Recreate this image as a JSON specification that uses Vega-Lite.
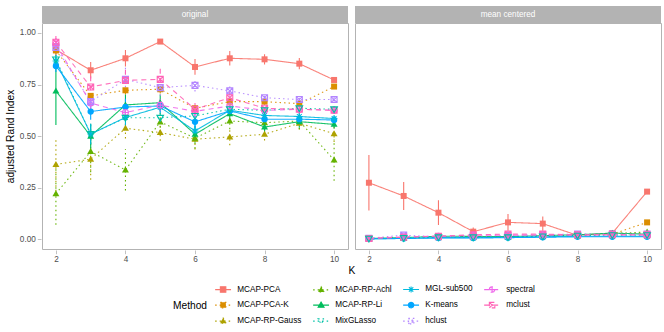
{
  "$schema": "https://vega.github.io/schema/vega-lite/v6.json",
  "padding": {"left": 5, "top": 5, "right": 7, "bottom": 2},
  "data": {"values": [
    {"m":"MCAP-PCA","p":"original","k":2,"v":0.919,"e":0.03},
    {"m":"MCAP-PCA","p":"original","k":3,"v":0.819,"e":0.04},
    {"m":"MCAP-PCA","p":"original","k":4,"v":0.877,"e":0.04},
    {"m":"MCAP-PCA","p":"original","k":5,"v":0.958,"e":0.01},
    {"m":"MCAP-PCA","p":"original","k":6,"v":0.835,"e":0.038},
    {"m":"MCAP-PCA","p":"original","k":7,"v":0.877,"e":0.035},
    {"m":"MCAP-PCA","p":"original","k":8,"v":0.872,"e":0.025},
    {"m":"MCAP-PCA","p":"original","k":9,"v":0.851,"e":0.027},
    {"m":"MCAP-PCA","p":"original","k":10,"v":0.772,"e":0.01},
    {"m":"MCAP-PCA-K","p":"original","k":2,"v":0.915,"e":0.02},
    {"m":"MCAP-PCA-K","p":"original","k":3,"v":0.695,"e":0.02},
    {"m":"MCAP-PCA-K","p":"original","k":4,"v":0.722,"e":0.02},
    {"m":"MCAP-PCA-K","p":"original","k":5,"v":0.727,"e":0.02},
    {"m":"MCAP-PCA-K","p":"original","k":6,"v":0.635,"e":0.02},
    {"m":"MCAP-PCA-K","p":"original","k":7,"v":0.667,"e":0.02},
    {"m":"MCAP-PCA-K","p":"original","k":8,"v":0.667,"e":0.015},
    {"m":"MCAP-PCA-K","p":"original","k":9,"v":0.657,"e":0.015},
    {"m":"MCAP-PCA-K","p":"original","k":10,"v":0.74,"e":0.01},
    {"m":"MCAP-RP-Gauss","p":"original","k":2,"v":0.363,"e":0.13},
    {"m":"MCAP-RP-Gauss","p":"original","k":3,"v":0.388,"e":0.1},
    {"m":"MCAP-RP-Gauss","p":"original","k":4,"v":0.538,"e":0.05},
    {"m":"MCAP-RP-Gauss","p":"original","k":5,"v":0.517,"e":0.04},
    {"m":"MCAP-RP-Gauss","p":"original","k":6,"v":0.485,"e":0.05},
    {"m":"MCAP-RP-Gauss","p":"original","k":7,"v":0.496,"e":0.04},
    {"m":"MCAP-RP-Gauss","p":"original","k":8,"v":0.509,"e":0.03},
    {"m":"MCAP-RP-Gauss","p":"original","k":9,"v":0.562,"e":0.03},
    {"m":"MCAP-RP-Gauss","p":"original","k":10,"v":0.512,"e":0.04},
    {"m":"MCAP-RP-Achl","p":"original","k":2,"v":0.221,"e":0.15},
    {"m":"MCAP-RP-Achl","p":"original","k":3,"v":0.425,"e":0.1},
    {"m":"MCAP-RP-Achl","p":"original","k":4,"v":0.336,"e":0.1},
    {"m":"MCAP-RP-Achl","p":"original","k":5,"v":0.569,"e":0.05},
    {"m":"MCAP-RP-Achl","p":"original","k":6,"v":0.49,"e":0.05},
    {"m":"MCAP-RP-Achl","p":"original","k":7,"v":0.573,"e":0.04},
    {"m":"MCAP-RP-Achl","p":"original","k":8,"v":0.565,"e":0.03},
    {"m":"MCAP-RP-Achl","p":"original","k":9,"v":0.573,"e":0.04},
    {"m":"MCAP-RP-Achl","p":"original","k":10,"v":0.384,"e":0.1},
    {"m":"MCAP-RP-Li","p":"original","k":2,"v":0.719,"e":0.165},
    {"m":"MCAP-RP-Li","p":"original","k":3,"v":0.5,"e":0.06},
    {"m":"MCAP-RP-Li","p":"original","k":4,"v":0.651,"e":0.05},
    {"m":"MCAP-RP-Li","p":"original","k":5,"v":0.662,"e":0.04},
    {"m":"MCAP-RP-Li","p":"original","k":6,"v":0.509,"e":0.04},
    {"m":"MCAP-RP-Li","p":"original","k":7,"v":0.609,"e":0.03},
    {"m":"MCAP-RP-Li","p":"original","k":8,"v":0.544,"e":0.03},
    {"m":"MCAP-RP-Li","p":"original","k":9,"v":0.57,"e":0.03},
    {"m":"MCAP-RP-Li","p":"original","k":10,"v":0.557,"e":0.02},
    {"m":"MixGLasso","p":"original","k":2,"v":0.872,"e":0.03},
    {"m":"MixGLasso","p":"original","k":3,"v":0.51,"e":0.05},
    {"m":"MixGLasso","p":"original","k":4,"v":0.589,"e":0.04},
    {"m":"MixGLasso","p":"original","k":5,"v":0.589,"e":0.03},
    {"m":"MixGLasso","p":"original","k":6,"v":0.598,"e":0.03},
    {"m":"MixGLasso","p":"original","k":7,"v":0.63,"e":0.02},
    {"m":"MixGLasso","p":"original","k":8,"v":0.625,"e":0.02},
    {"m":"MixGLasso","p":"original","k":9,"v":0.635,"e":0.02},
    {"m":"MixGLasso","p":"original","k":10,"v":0.63,"e":0.015},
    {"m":"MGL-sub500","p":"original","k":2,"v":0.864,"e":0.03},
    {"m":"MGL-sub500","p":"original","k":3,"v":0.51,"e":0.05},
    {"m":"MGL-sub500","p":"original","k":4,"v":0.59,"e":0.04},
    {"m":"MGL-sub500","p":"original","k":5,"v":0.64,"e":0.03},
    {"m":"MGL-sub500","p":"original","k":6,"v":0.525,"e":0.04},
    {"m":"MGL-sub500","p":"original","k":7,"v":0.625,"e":0.02},
    {"m":"MGL-sub500","p":"original","k":8,"v":0.6,"e":0.02},
    {"m":"MGL-sub500","p":"original","k":9,"v":0.595,"e":0.02},
    {"m":"MGL-sub500","p":"original","k":10,"v":0.585,"e":0.015},
    {"m":"K-means","p":"original","k":2,"v":0.84,"e":0.03},
    {"m":"K-means","p":"original","k":3,"v":0.619,"e":0.04},
    {"m":"K-means","p":"original","k":4,"v":0.641,"e":0.04},
    {"m":"K-means","p":"original","k":5,"v":0.646,"e":0.03},
    {"m":"K-means","p":"original","k":6,"v":0.569,"e":0.03},
    {"m":"K-means","p":"original","k":7,"v":0.622,"e":0.02},
    {"m":"K-means","p":"original","k":8,"v":0.582,"e":0.02},
    {"m":"K-means","p":"original","k":9,"v":0.582,"e":0.02},
    {"m":"K-means","p":"original","k":10,"v":0.578,"e":0.015},
    {"m":"hclust","p":"original","k":2,"v":0.93,"e":0.03},
    {"m":"hclust","p":"original","k":3,"v":0.667,"e":0.04},
    {"m":"hclust","p":"original","k":4,"v":0.775,"e":0.06},
    {"m":"hclust","p":"original","k":5,"v":0.735,"e":0.04},
    {"m":"hclust","p":"original","k":6,"v":0.746,"e":0.03},
    {"m":"hclust","p":"original","k":7,"v":0.719,"e":0.03},
    {"m":"hclust","p":"original","k":8,"v":0.686,"e":0.02},
    {"m":"hclust","p":"original","k":9,"v":0.677,"e":0.02},
    {"m":"hclust","p":"original","k":10,"v":0.677,"e":0.015},
    {"m":"spectral","p":"original","k":2,"v":0.945,"e":0.03},
    {"m":"spectral","p":"original","k":3,"v":0.66,"e":0.04},
    {"m":"spectral","p":"original","k":4,"v":0.614,"e":0.04},
    {"m":"spectral","p":"original","k":5,"v":0.65,"e":0.03},
    {"m":"spectral","p":"original","k":6,"v":0.62,"e":0.03},
    {"m":"spectral","p":"original","k":7,"v":0.646,"e":0.03},
    {"m":"spectral","p":"original","k":8,"v":0.625,"e":0.02},
    {"m":"spectral","p":"original","k":9,"v":0.63,"e":0.02},
    {"m":"spectral","p":"original","k":10,"v":0.625,"e":0.015},
    {"m":"mclust","p":"original","k":2,"v":0.955,"e":0.03},
    {"m":"mclust","p":"original","k":3,"v":0.738,"e":0.06},
    {"m":"mclust","p":"original","k":4,"v":0.77,"e":0.06},
    {"m":"mclust","p":"original","k":5,"v":0.775,"e":0.06},
    {"m":"mclust","p":"original","k":6,"v":0.63,"e":0.03},
    {"m":"mclust","p":"original","k":7,"v":0.686,"e":0.03},
    {"m":"mclust","p":"original","k":8,"v":0.635,"e":0.02},
    {"m":"mclust","p":"original","k":9,"v":0.63,"e":0.02},
    {"m":"mclust","p":"original","k":10,"v":0.625,"e":0.015},
    {"m":"MCAP-PCA","p":"mean centered","k":2,"v":0.274,"e":0.135},
    {"m":"MCAP-PCA","p":"mean centered","k":3,"v":0.21,"e":0.068},
    {"m":"MCAP-PCA","p":"mean centered","k":4,"v":0.129,"e":0.06},
    {"m":"MCAP-PCA","p":"mean centered","k":5,"v":0.037,"e":0.02},
    {"m":"MCAP-PCA","p":"mean centered","k":6,"v":0.082,"e":0.04},
    {"m":"MCAP-PCA","p":"mean centered","k":7,"v":0.076,"e":0.035},
    {"m":"MCAP-PCA","p":"mean centered","k":8,"v":0.019,"e":0.008},
    {"m":"MCAP-PCA","p":"mean centered","k":9,"v":0.03,"e":0.008},
    {"m":"MCAP-PCA","p":"mean centered","k":10,"v":0.231,"e":0.012},
    {"m":"MCAP-PCA-K","p":"mean centered","k":2,"v":0.003,"e":0.003},
    {"m":"MCAP-PCA-K","p":"mean centered","k":3,"v":0.008,"e":0.004},
    {"m":"MCAP-PCA-K","p":"mean centered","k":4,"v":0.01,"e":0.004},
    {"m":"MCAP-PCA-K","p":"mean centered","k":5,"v":0.01,"e":0.004},
    {"m":"MCAP-PCA-K","p":"mean centered","k":6,"v":0.012,"e":0.004},
    {"m":"MCAP-PCA-K","p":"mean centered","k":7,"v":0.015,"e":0.004},
    {"m":"MCAP-PCA-K","p":"mean centered","k":8,"v":0.018,"e":0.004},
    {"m":"MCAP-PCA-K","p":"mean centered","k":9,"v":0.025,"e":0.004},
    {"m":"MCAP-PCA-K","p":"mean centered","k":10,"v":0.082,"e":0.006},
    {"m":"MCAP-RP-Gauss","p":"mean centered","k":2,"v":0.003,"e":0.003},
    {"m":"MCAP-RP-Gauss","p":"mean centered","k":3,"v":0.006,"e":0.003},
    {"m":"MCAP-RP-Gauss","p":"mean centered","k":4,"v":0.01,"e":0.004},
    {"m":"MCAP-RP-Gauss","p":"mean centered","k":5,"v":0.01,"e":0.004},
    {"m":"MCAP-RP-Gauss","p":"mean centered","k":6,"v":0.012,"e":0.004},
    {"m":"MCAP-RP-Gauss","p":"mean centered","k":7,"v":0.015,"e":0.004},
    {"m":"MCAP-RP-Gauss","p":"mean centered","k":8,"v":0.02,"e":0.004},
    {"m":"MCAP-RP-Gauss","p":"mean centered","k":9,"v":0.025,"e":0.004},
    {"m":"MCAP-RP-Gauss","p":"mean centered","k":10,"v":0.03,"e":0.004},
    {"m":"MCAP-RP-Achl","p":"mean centered","k":2,"v":0.003,"e":0.003},
    {"m":"MCAP-RP-Achl","p":"mean centered","k":3,"v":0.006,"e":0.003},
    {"m":"MCAP-RP-Achl","p":"mean centered","k":4,"v":0.012,"e":0.004},
    {"m":"MCAP-RP-Achl","p":"mean centered","k":5,"v":0.012,"e":0.004},
    {"m":"MCAP-RP-Achl","p":"mean centered","k":6,"v":0.012,"e":0.004},
    {"m":"MCAP-RP-Achl","p":"mean centered","k":7,"v":0.016,"e":0.004},
    {"m":"MCAP-RP-Achl","p":"mean centered","k":8,"v":0.022,"e":0.004},
    {"m":"MCAP-RP-Achl","p":"mean centered","k":9,"v":0.028,"e":0.004},
    {"m":"MCAP-RP-Achl","p":"mean centered","k":10,"v":0.035,"e":0.005},
    {"m":"MCAP-RP-Li","p":"mean centered","k":2,"v":0.004,"e":0.003},
    {"m":"MCAP-RP-Li","p":"mean centered","k":3,"v":0.008,"e":0.003},
    {"m":"MCAP-RP-Li","p":"mean centered","k":4,"v":0.015,"e":0.004},
    {"m":"MCAP-RP-Li","p":"mean centered","k":5,"v":0.014,"e":0.004},
    {"m":"MCAP-RP-Li","p":"mean centered","k":6,"v":0.013,"e":0.004},
    {"m":"MCAP-RP-Li","p":"mean centered","k":7,"v":0.018,"e":0.004},
    {"m":"MCAP-RP-Li","p":"mean centered","k":8,"v":0.022,"e":0.004},
    {"m":"MCAP-RP-Li","p":"mean centered","k":9,"v":0.03,"e":0.004},
    {"m":"MCAP-RP-Li","p":"mean centered","k":10,"v":0.025,"e":0.004},
    {"m":"MixGLasso","p":"mean centered","k":2,"v":0.003,"e":0.003},
    {"m":"MixGLasso","p":"mean centered","k":3,"v":0.006,"e":0.003},
    {"m":"MixGLasso","p":"mean centered","k":4,"v":0.01,"e":0.003},
    {"m":"MixGLasso","p":"mean centered","k":5,"v":0.01,"e":0.003},
    {"m":"MixGLasso","p":"mean centered","k":6,"v":0.01,"e":0.003},
    {"m":"MixGLasso","p":"mean centered","k":7,"v":0.014,"e":0.003},
    {"m":"MixGLasso","p":"mean centered","k":8,"v":0.018,"e":0.003},
    {"m":"MixGLasso","p":"mean centered","k":9,"v":0.02,"e":0.003},
    {"m":"MixGLasso","p":"mean centered","k":10,"v":0.02,"e":0.003},
    {"m":"MGL-sub500","p":"mean centered","k":2,"v":0.002,"e":0.002},
    {"m":"MGL-sub500","p":"mean centered","k":3,"v":0.005,"e":0.003},
    {"m":"MGL-sub500","p":"mean centered","k":4,"v":0.008,"e":0.003},
    {"m":"MGL-sub500","p":"mean centered","k":5,"v":0.008,"e":0.003},
    {"m":"MGL-sub500","p":"mean centered","k":6,"v":0.01,"e":0.003},
    {"m":"MGL-sub500","p":"mean centered","k":7,"v":0.012,"e":0.003},
    {"m":"MGL-sub500","p":"mean centered","k":8,"v":0.015,"e":0.003},
    {"m":"MGL-sub500","p":"mean centered","k":9,"v":0.015,"e":0.003},
    {"m":"MGL-sub500","p":"mean centered","k":10,"v":0.015,"e":0.003},
    {"m":"K-means","p":"mean centered","k":2,"v":0.002,"e":0.002},
    {"m":"K-means","p":"mean centered","k":3,"v":0.004,"e":0.002},
    {"m":"K-means","p":"mean centered","k":4,"v":0.006,"e":0.002},
    {"m":"K-means","p":"mean centered","k":5,"v":0.006,"e":0.002},
    {"m":"K-means","p":"mean centered","k":6,"v":0.008,"e":0.002},
    {"m":"K-means","p":"mean centered","k":7,"v":0.01,"e":0.002},
    {"m":"K-means","p":"mean centered","k":8,"v":0.012,"e":0.002},
    {"m":"K-means","p":"mean centered","k":9,"v":0.012,"e":0.002},
    {"m":"K-means","p":"mean centered","k":10,"v":0.012,"e":0.002},
    {"m":"hclust","p":"mean centered","k":2,"v":0.005,"e":0.003},
    {"m":"hclust","p":"mean centered","k":3,"v":0.02,"e":0.004},
    {"m":"hclust","p":"mean centered","k":4,"v":0.012,"e":0.004},
    {"m":"hclust","p":"mean centered","k":5,"v":0.015,"e":0.004},
    {"m":"hclust","p":"mean centered","k":6,"v":0.018,"e":0.004},
    {"m":"hclust","p":"mean centered","k":7,"v":0.022,"e":0.004},
    {"m":"hclust","p":"mean centered","k":8,"v":0.025,"e":0.004},
    {"m":"hclust","p":"mean centered","k":9,"v":0.025,"e":0.004},
    {"m":"hclust","p":"mean centered","k":10,"v":0.025,"e":0.004},
    {"m":"spectral","p":"mean centered","k":2,"v":0.004,"e":0.003},
    {"m":"spectral","p":"mean centered","k":3,"v":0.012,"e":0.004},
    {"m":"spectral","p":"mean centered","k":4,"v":0.015,"e":0.004},
    {"m":"spectral","p":"mean centered","k":5,"v":0.02,"e":0.004},
    {"m":"spectral","p":"mean centered","k":6,"v":0.02,"e":0.004},
    {"m":"spectral","p":"mean centered","k":7,"v":0.02,"e":0.004},
    {"m":"spectral","p":"mean centered","k":8,"v":0.02,"e":0.004},
    {"m":"spectral","p":"mean centered","k":9,"v":0.022,"e":0.004},
    {"m":"spectral","p":"mean centered","k":10,"v":0.02,"e":0.004},
    {"m":"mclust","p":"mean centered","k":2,"v":0.004,"e":0.003},
    {"m":"mclust","p":"mean centered","k":3,"v":0.01,"e":0.004},
    {"m":"mclust","p":"mean centered","k":4,"v":0.015,"e":0.004},
    {"m":"mclust","p":"mean centered","k":5,"v":0.022,"e":0.004},
    {"m":"mclust","p":"mean centered","k":6,"v":0.025,"e":0.004},
    {"m":"mclust","p":"mean centered","k":7,"v":0.025,"e":0.004},
    {"m":"mclust","p":"mean centered","k":8,"v":0.022,"e":0.004},
    {"m":"mclust","p":"mean centered","k":9,"v":0.022,"e":0.004},
    {"m":"mclust","p":"mean centered","k":10,"v":0.022,"e":0.004}
  ]},
  "facet": {"column": {"field": "p", "type": "nominal", "sort": ["original", "mean centered"], "title": "K",
    "header": {"labels": false, "titleOrient": "bottom", "titleFontSize": 10.2, "titleFontWeight": "normal", "titleColor": "black", "titlePadding": -7}}},
  "spacing": 5,
  "spec": {
    "width": 306,
    "height": 226,
    "layer": [
      {
        "transform": [{"aggregate": [{"op": "count", "as": "n"}], "groupby": ["p"]}],
        "mark": {"type": "rect", "color": "#B3B3B3", "clip": false},
        "encoding": {
          "x": {"datum": 1.6, "type": "quantitative"},
          "x2": {"datum": 10.4},
          "y": {"datum": 1.048, "type": "quantitative"},
          "y2": {"datum": 1.13}
        }
      },
      {
        "transform": [{"aggregate": [{"op": "count", "as": "n"}], "groupby": ["p"]}],
        "mark": {"type": "text", "color": "white", "fontSize": 8.2, "clip": false, "baseline": "middle"},
        "encoding": {
          "x": {"datum": 6, "type": "quantitative"},
          "y": {"datum": 1.089, "type": "quantitative"},
          "text": {"field": "p"}
        }
      },
      {
        "mark": {"type": "line", "strokeWidth": 1.1, "opacity": 0.9},
        "encoding": {
          "x": {"field": "k", "type": "quantitative", "title": null, "scale": {"domain": [1.6, 10.4], "nice": false, "zero": false},
            "axis": {"title": null, "values": [2, 3, 4, 5, 6, 7, 8, 9, 10],
              "labelExpr": "datum.value % 2 == 0 ? datum.label : ''",
              "tickOpacity": {"condition": {"test": "datum.value % 2 != 0", "value": 0}, "value": 1},
              "gridWidth": {"condition": {"test": "datum.value % 2 != 0", "value": 0.5}, "value": 1}}},
          "y": {"field": "v", "type": "quantitative", "title": "adjusted Rand Index", "scale": {"domain": [-0.047, 1.048], "nice": false, "zero": false},
            "axis": {"title": "adjusted Rand Index", "values": [0, 0.125, 0.25, 0.375, 0.5, 0.625, 0.75, 0.875, 1],
              "labelExpr": "(datum.value * 8) % 2 == 0 ? format(datum.value, '.2f') : ''",
              "tickOpacity": {"condition": {"test": "(datum.value * 8) % 2 != 0", "value": 0}, "value": 1},
              "gridWidth": {"condition": {"test": "(datum.value * 8) % 2 != 0", "value": 0.5}, "value": 1}}},
          "color": {"field": "m", "type": "nominal", "title": "Method",
            "scale": {"domain": ["MCAP-PCA", "MCAP-RP-Achl", "MGL-sub500", "spectral", "MCAP-PCA-K", "MCAP-RP-Li", "K-means", "mclust", "MCAP-RP-Gauss", "MixGLasso", "hclust"],
              "range": ["#F8766D", "#64B200", "#00BADE", "#EF67EB", "#DB8E00", "#00BD5C", "#00A6FF", "#FF63B6", "#AEA200", "#00C1A7", "#B385FF"]},
            "legend": {"orient": "none", "legendX": 131, "legendY": 262, "columns": 4, "direction": "horizontal",
              "titleOrient": "left", "titleAnchor": "middle", "titleBaseline": "middle", "titlePadding": 6,
              "symbolSize": 30, "symbolStrokeWidth": 1.1, "symbolOffset": 6, "symbolOpacity": 1, "rowPadding": 4, "columnPadding": 8, "labelOffset": 10}},
          "strokeDash": {"field": "m", "type": "nominal", "title": "Method",
            "scale": {"domain": ["MCAP-PCA", "MCAP-RP-Achl", "MGL-sub500", "spectral", "MCAP-PCA-K", "MCAP-RP-Li", "K-means", "mclust", "MCAP-RP-Gauss", "MixGLasso", "hclust"],
              "range": [[1, 0], [1.5, 3], [1, 0], [5, 4], [1.5, 3], [1, 0], [1, 0], [5, 4], [1.5, 3], [1.5, 3], [1.5, 3]]}}
        }
      },
      {
        "mark": {"type": "errorbar", "thickness": 1.1},
        "encoding": {
          "x": {"field": "k", "type": "quantitative", "title": null},
          "y": {"field": "v", "type": "quantitative", "title": "adjusted Rand Index"},
          "yError": {"field": "e"},
          "color": {"field": "m", "type": "nominal", "title": "Method"},
          "strokeDash": {"field": "m", "type": "nominal", "title": "Method"}
        }
      },
      {
        "transform": [{"filter": {"field": "m", "oneOf": ["MCAP-PCA", "MCAP-PCA-K"]}}],
        "mark": {"type": "point", "filled": true, "size": 36, "opacity": 1, "shape": "M-1,-1L1,-1L1,1L-1,1Z"},
        "encoding": {
          "x": {"field": "k", "type": "quantitative", "title": null},
          "y": {"field": "v", "type": "quantitative", "title": "adjusted Rand Index"},
          "fill": {"field": "m", "type": "nominal", "title": "Method"}
        }
      },
      {
        "transform": [{"filter": {"field": "m", "oneOf": ["MCAP-RP-Gauss", "MCAP-RP-Achl", "MCAP-RP-Li"]}}],
        "mark": {"type": "point", "filled": true, "size": 40, "opacity": 1, "shape": "M0,-1.1L1.1,0.8L-1.1,0.8Z"},
        "encoding": {
          "x": {"field": "k", "type": "quantitative", "title": null},
          "y": {"field": "v", "type": "quantitative", "title": "adjusted Rand Index"},
          "fill": {"field": "m", "type": "nominal", "title": "Method"}
        }
      },
      {
        "transform": [{"filter": {"field": "m", "oneOf": ["K-means"]}}],
        "mark": {"type": "point", "filled": true, "size": 40, "opacity": 1, "shape": "circle"},
        "encoding": {
          "x": {"field": "k", "type": "quantitative", "title": null},
          "y": {"field": "v", "type": "quantitative", "title": "adjusted Rand Index"},
          "fill": {"field": "m", "type": "nominal", "title": "Method"}
        }
      },
      {
        "transform": [{"filter": {"field": "m", "oneOf": ["MGL-sub500"]}}],
        "mark": {"type": "point", "filled": false, "size": 36, "strokeWidth": 1.1, "opacity": 1, "shape": "M-1.1,0L1.1,0M0,-1.1L0,1.1M-0.8,-0.8L0.8,0.8M-0.8,0.8L0.8,-0.8"},
        "encoding": {
          "x": {"field": "k", "type": "quantitative", "title": null},
          "y": {"field": "v", "type": "quantitative", "title": "adjusted Rand Index"},
          "color": {"field": "m", "type": "nominal", "title": "Method"}
        }
      },
      {
        "transform": [{"filter": {"field": "m", "oneOf": ["spectral"]}}],
        "mark": {"type": "point", "filled": false, "size": 36, "strokeWidth": 1.1, "opacity": 1, "shape": "M-1,0A1,1,0,1,1,1,0A1,1,0,1,1,-1,0ZM-1,0L1,0M0,-1L0,1"},
        "encoding": {
          "x": {"field": "k", "type": "quantitative", "title": null},
          "y": {"field": "v", "type": "quantitative", "title": "adjusted Rand Index"},
          "color": {"field": "m", "type": "nominal", "title": "Method"}
        }
      },
      {
        "transform": [{"filter": {"field": "m", "oneOf": ["mclust", "hclust"]}}],
        "mark": {"type": "point", "filled": false, "size": 36, "strokeWidth": 1.1, "opacity": 1, "shape": "M-1,-1L1,-1L1,1L-1,1ZM-1,-1L1,1M-1,1L1,-1"},
        "encoding": {
          "x": {"field": "k", "type": "quantitative", "title": null},
          "y": {"field": "v", "type": "quantitative", "title": "adjusted Rand Index"},
          "color": {"field": "m", "type": "nominal", "title": "Method"}
        }
      },
      {
        "transform": [{"filter": {"field": "m", "oneOf": ["MixGLasso"]}}],
        "mark": {"type": "point", "filled": false, "size": 36, "strokeWidth": 1.1, "opacity": 1, "shape": "M-1.1,-0.8L1.1,-0.8L0,1.1Z"},
        "encoding": {
          "x": {"field": "k", "type": "quantitative", "title": null},
          "y": {"field": "v", "type": "quantitative", "title": "adjusted Rand Index"},
          "color": {"field": "m", "type": "nominal", "title": "Method"}
        }
      },
      {
        "mark": {"type": "point", "filled": false, "size": 30, "strokeWidth": 1.1, "opacity": 0},
        "encoding": {
          "x": {"field": "k", "type": "quantitative", "title": null},
          "y": {"field": "v", "type": "quantitative", "title": "adjusted Rand Index"},
          "color": {"field": "m", "type": "nominal", "title": "Method"},
          "strokeDash": {"field": "m", "type": "nominal", "title": "Method"},
          "fill": {"field": "m", "type": "nominal", "title": "Method",
            "scale": {"domain": ["MCAP-PCA", "MCAP-RP-Achl", "MGL-sub500", "spectral", "MCAP-PCA-K", "MCAP-RP-Li", "K-means", "mclust", "MCAP-RP-Gauss", "MixGLasso", "hclust"],
              "range": ["#F8766D", "#64B200", "transparent", "transparent", "#DB8E00", "#00BD5C", "#00A6FF", "transparent", "#AEA200", "transparent", "transparent"]}},
          "shape": {"field": "m", "type": "nominal", "title": "Method",
            "scale": {"domain": ["MCAP-PCA", "MCAP-RP-Achl", "MGL-sub500", "spectral", "MCAP-PCA-K", "MCAP-RP-Li", "K-means", "mclust", "MCAP-RP-Gauss", "MixGLasso", "hclust"],
              "range": [
                "M-1,-1L1,-1L1,1L-1,1ZM-2.9,0L2.9,0",
                "M0,-1.1L1.1,0.8L-1.1,0.8ZM-2.9,0L2.9,0",
                "M-1.1,0L1.1,0M0,-1.1L0,1.1M-0.8,-0.8L0.8,0.8M-0.8,0.8L0.8,-0.8M-2.9,0L2.9,0",
                "M-1,0A1,1,0,1,1,1,0A1,1,0,1,1,-1,0ZM-1,0L1,0M0,-1L0,1M-2.9,0L2.9,0",
                "M-1,-1L1,-1L1,1L-1,1ZM-2.9,0L2.9,0",
                "M0,-1.1L1.1,0.8L-1.1,0.8ZM-2.9,0L2.9,0",
                "M-1,0A1,1,0,1,1,1,0A1,1,0,1,1,-1,0ZM-2.9,0L2.9,0",
                "M-1,-1L1,-1L1,1L-1,1ZM-1,-1L1,1M-1,1L1,-1M-2.9,0L2.9,0",
                "M0,-1.1L1.1,0.8L-1.1,0.8ZM-2.9,0L2.9,0",
                "M-1.1,-0.8L1.1,-0.8L0,1.1ZM-2.9,0L2.9,0",
                "M-1,-1L1,-1L1,1L-1,1ZM-1,-1L1,1M-1,1L1,-1M-2.9,0L2.9,0"
              ]}}
        }
      }
    ]
  },
  "config": {
    "font": "Liberation Sans",
    "view": {"stroke": "#B3B3B3", "strokeWidth": 1},
    "axis": {"domain": false, "tickColor": "#B3B3B3", "tickSize": 3.7, "tickWidth": 0.8, "labelColor": "#4D4D4D", "labelFontSize": 8.2, "titleFontSize": 10.2, "titleFontWeight": "normal", "titleColor": "black", "gridColor": "#DEDEDE", "labelPadding": 2, "titlePadding": 4},
    "legend": {"labelFontSize": 8.2, "labelColor": "black", "titleFontSize": 10.2, "titleFontWeight": "normal", "titleColor": "black"}
  }
}
